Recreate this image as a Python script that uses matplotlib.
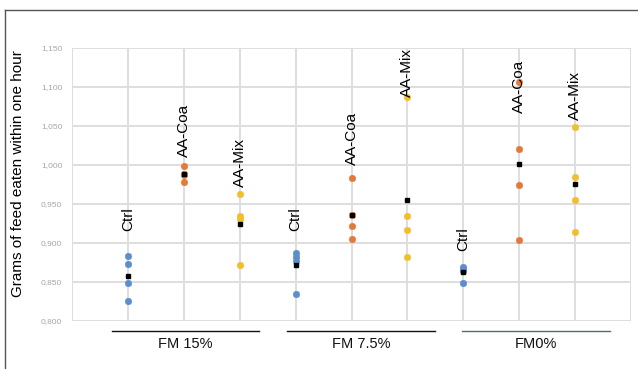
import matplotlib
matplotlib.use("Agg")
import matplotlib.pyplot as plt
from matplotlib.lines import Line2D
import matplotlib.transforms as mtransforms

# ---- data ----
categories = ["Ctrl", "AA-Coa", "AA-Mix", "Ctrl", "AA-Coa", "AA-Mix", "Ctrl", "AA-Coa", "AA-Mix"]
groups = ["FM 15%", "FM 7.5%", "FM0%"]
ctrl_fm15 = [0.883, 0.873, 0.849, 0.825]
coa_fm15 = [0.999, 0.988, 0.987, 0.978]
mix_fm15 = [0.963, 0.935, 0.930, 0.871]
ctrl_fm75 = [0.887, 0.882, 0.877, 0.834]
coa_fm75 = [0.983, 0.936, 0.922, 0.905]
mix_fm75 = [1.087, 0.935, 0.917, 0.882]
ctrl_fm0 = [0.869, 0.866, 0.864, 0.848]
coa_fm0 = [1.106, 1.020, 0.974, 0.903]
mix_fm0 = [1.048, 0.985, 0.955, 0.914]
means = [0.857, 0.988, 0.924, 0.871, 0.936, 0.955, 0.862, 1.001, 0.976]
yticks = [0.800, 0.850, 0.900, 0.950, 1.000, 1.050, 1.100, 1.150]
ytick_labels = ["0,800", "0,850", "0,900", "0,950", "1,000", "1,050", "1,100", "1,150"]

series = [ctrl_fm15, coa_fm15, mix_fm15, ctrl_fm75, coa_fm75, mix_fm75, ctrl_fm0, coa_fm0, mix_fm0]

# ---- layout / style ----
label_y = [0.915, 1.010, 0.972, 0.915, 1.000, 1.087, 0.889, 1.067, 1.058]
group_spans = [(0.716, 3.345), (3.846, 6.494), (6.977, 9.624)]
group_line_colors = ["#111111", "#111111", "#5f6670"]
cat_colors = {"Ctrl": "#5B8ECB", "AA-Coa": "#E27A3C", "AA-Mix": "#F2BF2C"}

plt.rcParams["font.family"] = ["Liberation Sans", "DejaVu Sans"]

fig = plt.figure(figsize=(6.38, 3.69), dpi=100)
ax = fig.add_axes([72 / 638, 1 - 320.7 / 369, (631 - 72) / 638, (320.7 - 48) / 369])

for i, (cat, vals) in enumerate(zip(categories, series)):
    xpos = i + 1
    ax.plot([xpos] * len(vals), vals, linestyle="none", marker="o", ms=4.8,
            mfc=cat_colors[cat], mec=cat_colors[cat], mew=0.3, zorder=3, clip_on=False)
    ax.plot([xpos], [means[i]], linestyle="none", marker="s", ms=3.2,
            mfc="black", mec="black", zorder=4)
    ax.text(xpos, label_y[i], cat, rotation=90, ha="center", va="bottom",
            fontsize=11, color="black", zorder=5)

ax.set_xlim(0, 10)
ax.set_ylim(0.8, 1.15)
ax.set_xticks(range(0, 11))
ax.set_xticklabels([])
ax.set_yticks(yticks)
ax.set_yticklabels(ytick_labels, fontsize=6, color="#a6a6a6")
ax.tick_params(length=0, pad=7)
ax.grid(True, color="#dedede", linewidth=1.4)
ax.set_axisbelow(True)
for s in ax.spines.values():
    s.set_visible(False)

ax.set_ylabel("Grams of feed eaten within one hour", fontsize=11, color="black")
ax.yaxis.set_label_coords(-0.084, 0.538)

trans = mtransforms.blended_transform_factory(ax.transData, ax.transAxes)
for (x0, x1), g, lc in zip(group_spans, groups, group_line_colors):
    ax.add_line(Line2D([x0, x1], [-0.0367, -0.0367], transform=trans, color=lc,
                       linewidth=1.0, clip_on=False))
    ax.text((x0 + x1) / 2, -0.087, g, transform=trans, ha="center", va="center",
            fontsize=10.5, color="#111111")

# figure frame (top and left edges)
fig.add_artist(Line2D([4.5 / 638, 1.0], [1 - 9.5 / 369, 1 - 9.5 / 369],
                      transform=fig.transFigure, color="#555555", linewidth=1.0))
fig.add_artist(Line2D([4.5 / 638, 4.5 / 638], [0, 1 - 9.5 / 369],
                      transform=fig.transFigure, color="#555555", linewidth=1.0))

fig.savefig("out.png", dpi=100)
